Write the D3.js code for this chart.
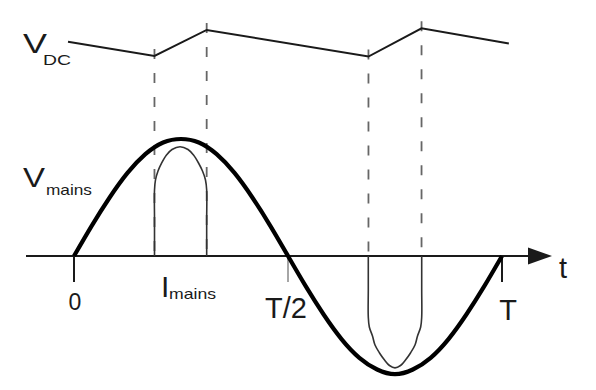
<!DOCTYPE html>
<html>
<head>
<meta charset="utf-8">
<script src="https://cdn.jsdelivr.net/npm/d3@7"></script>
<style>
  html, body { margin: 0; padding: 0; background: #fff; }
  svg { display: block; font-family: "Liberation Sans", Arial, sans-serif; }
</style>
</head>
<body>
<div id="chart"></div>
<script>
// time in fractions of the mains period T
const tMains = [0, 0.0417, 0.0833, 0.125, 0.1667, 0.2083, 0.25, 0.2917, 0.3333, 0.375, 0.4167, 0.4583,
  0.5, 0.5417, 0.5833, 0.625, 0.6667, 0.7083, 0.75, 0.7917, 0.8333, 0.875, 0.9167, 0.9583, 1];
const vMains = [0, 0.26, 0.5, 0.71, 0.87, 0.97, 1, 0.97, 0.87, 0.71, 0.5, 0.26,
  0, -0.26, -0.5, -0.71, -0.87, -0.97, -1.01, -0.97, -0.87, -0.71, -0.5, -0.26, 0];

// charging current pulses (same vertical units as the mains voltage)
const tPulse1 = [0.1881, 0.1881, 0.1881, 0.1904, 0.1963, 0.2049, 0.2161, 0.229, 0.2477,
  0.2664, 0.2792, 0.2909, 0.3002, 0.3072, 0.31, 0.31, 0.31];
const iPulse1 = [0, 0.308, 0.564, 0.65, 0.726, 0.795, 0.863, 0.91, 0.934,
  0.91, 0.863, 0.795, 0.726, 0.65, 0.564, 0.308, 0];
const tPulse2 = [0.6876, 0.6876, 0.6876, 0.69, 0.6974, 0.7033, 0.7138, 0.7255, 0.7371, 0.75,
  0.7629, 0.7745, 0.7862, 0.7967, 0.8026, 0.81, 0.8124, 0.8124, 0.8124];
const iPulse2 = [0, -0.291, -0.521, -0.607, -0.684, -0.761, -0.829, -0.889, -0.936, -0.956,
  -0.936, -0.889, -0.829, -0.761, -0.684, -0.607, -0.521, -0.291, 0];

// DC bus ripple (relative level)
const tDC = [-0.014, 0.188, 0.31, 0.688, 0.812, 1.016];
const vDC = [0.51, 0, 0.93, -0.02, 0.99, 0.45];

// conduction edges marked by dashed lines
const edgeT = [0.188, 0.31, 0.688, 0.812];

const tickT = [0, 0.5, 1];
const tickLabels = ["0", "T/2", "T"];

const width = 596;
const height = 390;

const svg = d3.select("#chart").append("svg")
  .attr("width", width)
  .attr("height", height);

const x = d3.scaleLinear().domain([0, 1]).range([74, 502]);
const y = d3.scaleLinear().domain([-1, 1]).range([373, 139]);
const yDC = d3.scaleLinear().domain([0, 1]).range([56, 28]);

const ink = "#1a1a1a";

// dashed guide lines
const dcAt = d3.scaleLinear().domain(tDC).range(vDC);
svg.append("g").selectAll("line").data(edgeT).join("line")
  .attr("x1", d => x(d)).attr("x2", d => x(d))
  .attr("y1", d => yDC(dcAt(d)) - 7)
  .attr("y2", y(0))
  .attr("stroke", "#666")
  .attr("stroke-width", 1.8)
  .attr("stroke-dasharray", "10,14");

// time axis
svg.append("line")
  .attr("x1", 26).attr("x2", 532)
  .attr("y1", y(0)).attr("y2", y(0))
  .attr("stroke", ink).attr("stroke-width", 2);
svg.append("path")
  .attr("d", `M528,${y(0) - 8.5}L552,${y(0)}L528,${y(0) + 8.5}Z`)
  .attr("fill", ink);

// ticks
svg.append("g").selectAll("line").data(tickT).join("line")
  .attr("x1", d => x(d)).attr("x2", d => x(d))
  .attr("y1", y(0)).attr("y2", y(0) + 26)
  .attr("stroke", (d, i) => i === 1 ? "#888" : ink)
  .attr("stroke-width", (d, i) => i === 1 ? 1.5 : 2);

// current pulses
const pulseLine = d3.line()
  .x(d => x(d[0]))
  .y(d => y(d[1]))
  .curve(d3.curveCatmullRom.alpha(0.5));

[[tPulse1, iPulse1], [tPulse2, iPulse2]].forEach(([ts, is]) => {
  svg.append("path")
    .datum(d3.zip(ts, is))
    .attr("d", pulseLine)
    .attr("fill", "none")
    .attr("stroke", "#333")
    .attr("stroke-width", 1.6);
});

// mains voltage
svg.append("path")
  .datum(d3.zip(tMains, vMains))
  .attr("d", d3.line().x(d => x(d[0])).y(d => y(d[1])).curve(d3.curveNatural))
  .attr("fill", "none")
  .attr("stroke", "#000")
  .attr("stroke-width", 4.2);

// DC bus voltage
svg.append("path")
  .datum(d3.zip(tDC, vDC))
  .attr("d", d3.line().x(d => x(d[0])).y(d => yDC(d[1])))
  .attr("fill", "none")
  .attr("stroke", ink)
  .attr("stroke-width", 2);

// labels
function label(txt, px, py, size, len, anchor) {
  const t = svg.append("text")
    .attr("x", px).attr("y", py)
    .attr("font-size", size)
    .attr("fill", ink)
    .attr("text-anchor", anchor || "start")
    .text(txt);
  if (len) t.attr("textLength", len).attr("lengthAdjust", "spacingAndGlyphs");
  return t;
}

label("V", 23, 53, 28, 24);
label("DC", 43, 65, 14, 28);
label("V", 23, 187, 28, 22);
label("mains", 46, 194.5, 15, 46);
label("I", 161, 297, 30);
label("mains", 169, 299, 15, 47);

const tickDx = [1, -2, 6];
const tickBase = [310, 318, 320];
const tickSize = [23, 29, 29];
tickT.forEach((d, i) => label(tickLabels[i], x(d) + tickDx[i], tickBase[i], tickSize[i], null, "middle"));

label("t", 559, 278, 29);
</script>
</body>
</html>
